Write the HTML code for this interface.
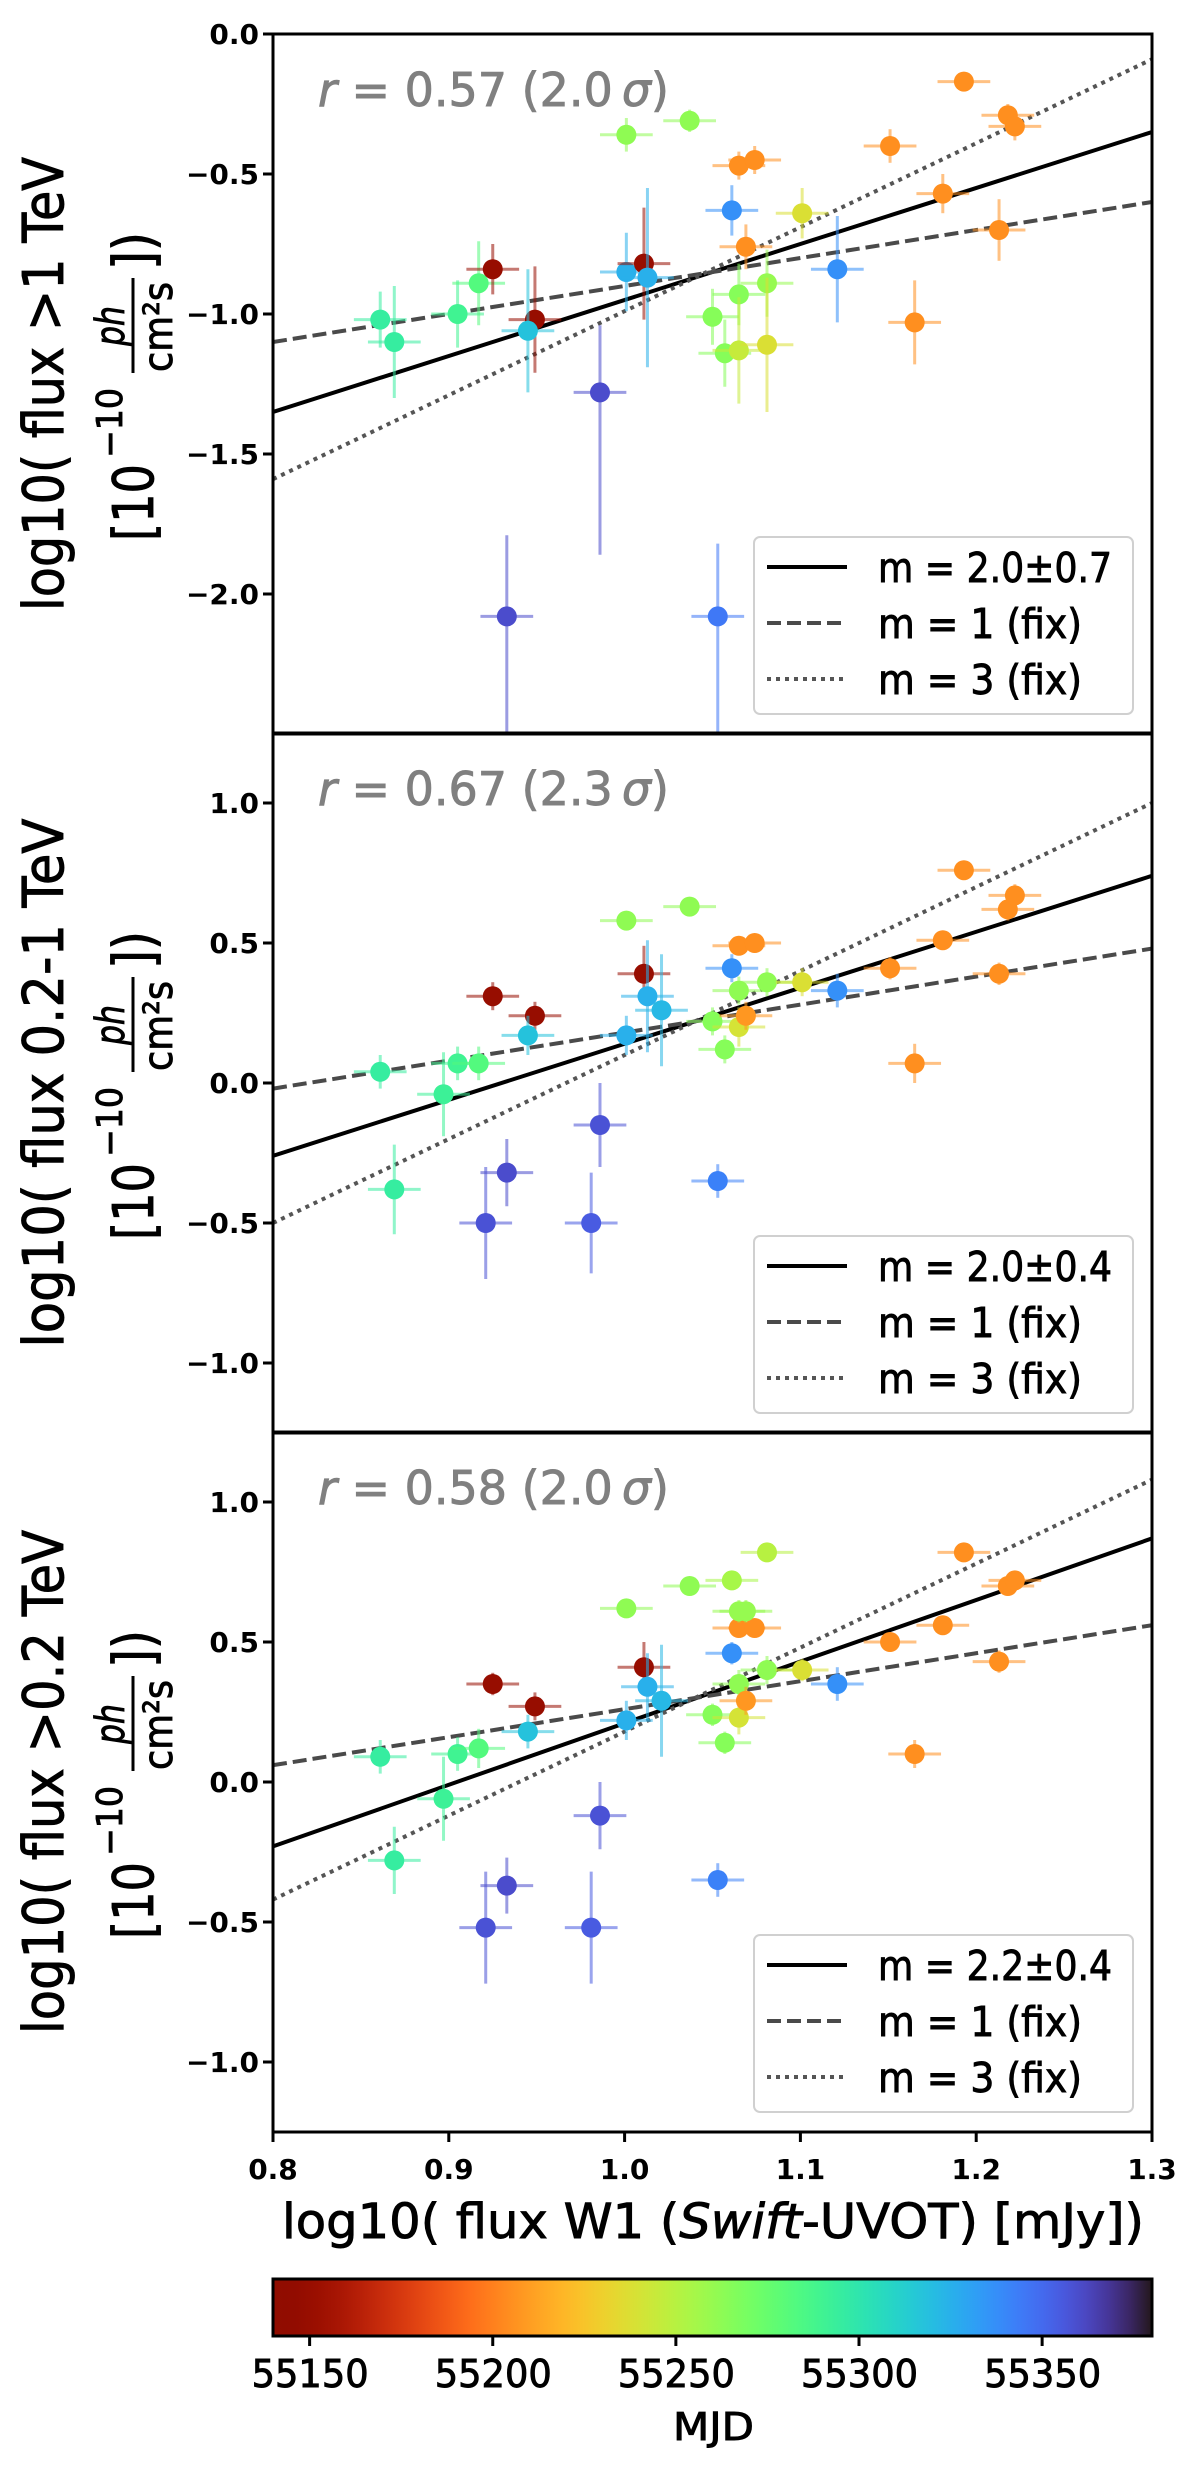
<!DOCTYPE html>
<html><head><meta charset="utf-8"><style>
html,body{margin:0;padding:0;background:#fff;}
svg{display:block;}
text{font-family:"DejaVu Sans","Liberation Sans",sans-serif;}
.hv{stroke:currentColor;stroke-width:0.9;}
</style></head><body>
<svg id="fig" width="1200" height="2472" viewBox="0 0 1200 2472" xmlns="http://www.w3.org/2000/svg"></svg>
<script>
// ---- data ----
const xTicks = [0.8, 0.9, 1.0, 1.1, 1.2, 1.3];
const p1YTicks = [0.0, -0.5, -1.0, -1.5, -2.0];
const p23YTicks = [1.0, 0.5, 0.0, -0.5, -1.0];
const cbTicks = [55150, 55200, 55250, 55300, 55350];

const p1X = [0.861,0.869,0.905,0.917,0.925,0.949,0.945,0.986,0.933,1.001,1.011,1.013,1.001,1.037,1.053,1.061,1.050,1.057,1.065,1.065,1.081,1.081,1.101,1.065,1.074,1.069,1.121,1.151,1.165,1.181,1.193,1.213,1.218,1.222];
const p1Y = [-1.02,-1.10,-1.00,-0.89,-0.84,-1.02,-1.06,-1.28,-2.08,-0.85,-0.82,-0.87,-0.36,-0.31,-2.08,-0.63,-1.01,-1.14,-0.93,-1.13,-0.89,-1.11,-0.64,-0.47,-0.45,-0.76,-0.84,-0.40,-1.03,-0.57,-0.17,-0.70,-0.29,-0.33];
const p1Err = [0.1,0.2,0.12,0.15,0.09,0.19,0.22,[0.58,0.24],[0.6,0.29],0.14,0.2,0.32,0.06,0.04,[0.6,0.26],0.09,0.1,0.12,0.11,0.19,0.12,0.24,0.09,0.05,0.05,0.08,0.19,0.06,0.15,0.07,0.03,0.11,0.04,0.05];
const p1Mjd = [55295,55295,55290,55282,55150,55150,55318,55360,55360,55325,55150,55325,55262,55262,55345,55337,55265,55265,55265,55245,55260,55238,55238,55205,55205,55205,55337,55205,55205,55205,55205,55205,55205,55205];

const p2X = [0.861,0.869,0.897,0.905,0.917,0.925,0.949,0.945,0.921,0.933,0.981,0.986,1.053,1.001,1.011,1.013,1.021,1.001,1.037,1.061,1.050,1.057,1.065,1.065,1.069,1.081,1.101,1.065,1.074,1.121,1.151,1.165,1.181,1.193,1.213,1.218,1.222];
const p2Y = [0.04,-0.38,-0.04,0.07,0.07,0.31,0.24,0.17,-0.50,-0.32,-0.50,-0.15,-0.35,0.17,0.39,0.31,0.26,0.58,0.63,0.41,0.22,0.12,0.33,0.20,0.24,0.36,0.36,0.49,0.50,0.33,0.41,0.07,0.51,0.76,0.39,0.62,0.67];
const p2Err = [0.06,0.16,0.15,0.06,0.06,0.05,0.05,0.07,0.2,0.12,0.18,0.15,0.06,0.07,0.1,0.2,0.2,0.03,0.02,0.05,0.05,0.05,0.05,0.07,0.05,0.05,0.05,0.03,0.03,0.06,0.04,0.07,0.03,0.02,0.04,0.04,0.04];
const p2Mjd = [55295,55295,55292,55290,55282,55150,55150,55318,55358,55360,55355,55358,55342,55325,55150,55325,55322,55262,55262,55337,55265,55265,55262,55240,55208,55262,55238,55205,55205,55337,55205,55205,55205,55205,55205,55205,55205];

const p3X = [0.861,0.869,0.897,0.905,0.917,0.925,0.949,0.945,0.921,0.933,0.981,0.986,1.053,1.001,1.011,1.013,1.021,1.001,1.037,1.061,1.050,1.057,1.065,1.065,1.069,1.081,1.081,1.101,1.065,1.074,1.121,1.151,1.165,1.181,1.193,1.213,1.218,1.222,1.061,1.065,1.069];
const p3Y = [0.09,-0.28,-0.06,0.10,0.12,0.35,0.27,0.18,-0.52,-0.37,-0.52,-0.12,-0.35,0.22,0.41,0.34,0.29,0.62,0.70,0.46,0.24,0.14,0.35,0.23,0.29,0.40,0.82,0.40,0.55,0.55,0.35,0.50,0.10,0.56,0.82,0.43,0.70,0.72,0.72,0.61,0.61];
const p3Err = [0.06,0.12,0.15,0.06,0.07,0.04,0.05,0.06,0.2,0.1,0.2,0.12,0.06,0.07,0.09,0.12,0.2,0.03,0.02,0.04,0.04,0.04,0.05,0.06,0.05,0.05,0.03,0.04,0.03,0.03,0.06,0.03,0.05,0.03,0.02,0.04,0.03,0.03,0.03,0.04,0.04];
const p3Mjd = [55295,55295,55292,55290,55282,55150,55150,55318,55358,55360,55355,55358,55342,55325,55150,55325,55322,55262,55262,55337,55265,55265,55262,55240,55208,55262,55250,55238,55205,55205,55337,55205,55205,55205,55205,55205,55205,55205,55255,55260,55260];

const p1Fit = [2.0, -1.35]; // slope, value at x=0.8
const p2Fit = [2.0, -0.26];
const p3Fit = [2.2, -0.23];
const p1Fix = [[1, -1.10],[3, -1.59]];
const p2Fix = [[1, -0.02],[3, -0.50]];
const p3Fix = [[1, 0.06],[3, -0.42]];
const p1Legend = ["m = 2.0±0.7","m = 1 (fix)","m = 3 (fix)"];
const p2Legend = ["m = 2.0±0.4","m = 1 (fix)","m = 3 (fix)"];
const p3Legend = ["m = 2.2±0.4","m = 1 (fix)","m = 3 (fix)"];
const rLabels = ["0.57 (2.0", "0.67 (2.3", "0.58 (2.0"];
const yLabelNames = ["flux >1 TeV","flux 0.2-1 TeV","flux >0.2 TeV"];

// ---- layout ----
const NS = "http://www.w3.org/2000/svg";
const svg = document.getElementById('fig');
const X0 = 273, X1 = 1152, PX = 1758;
const xs = v => X0 + (v - 0.8) * PX;
const MJD0 = 55140, MJD1 = 55380;

function mk(tag, attrs, parent, txt){
  const e = document.createElementNS(NS, tag);
  for (const k in attrs) e.setAttribute(k, attrs[k]);
  if (txt !== undefined) e.textContent = txt;
  (parent || svg).appendChild(e);
  return e;
}
function turbo(t){
  t = Math.max(0, Math.min(1, t));
  const r = 0.13572138 + t*(4.61539260 + t*(-42.66032258 + t*(132.13108234 + t*(-152.94239396 + t*59.28637943))));
  const g = 0.09140261 + t*(2.19418839 + t*(4.84296658 + t*(-14.18503333 + t*(4.27729857 + t*2.82956604))));
  const b = 0.10667330 + t*(12.64194608 + t*(-60.58204836 + t*(110.36276771 + t*(-89.90310912 + t*27.34824973))));
  const c = v => Math.round(255*Math.max(0, Math.min(1, v)));
  return `rgb(${c(r)},${c(g)},${c(b)})`;
}
const mjdColor = m => turbo(1 - (m - MJD0)/(MJD1 - MJD0));
const TL = {lengthAdjust:'spacingAndGlyphs'};

const panels = [
  {top:34, ymax:0, ymin:-2.5, ticks:p1YTicks, X:p1X, Y:p1Y, E:p1Err, M:p1Mjd, fit:p1Fit, fix:p1Fix, leg:p1Legend},
  {top:733, ymax:1.25, ymin:-1.25, ticks:p23YTicks, X:p2X, Y:p2Y, E:p2Err, M:p2Mjd, fit:p2Fit, fix:p2Fix, leg:p2Legend},
  {top:1432, ymax:1.25, ymin:-1.25, ticks:p23YTicks, X:p3X, Y:p3Y, E:p3Err, M:p3Mjd, fit:p3Fit, fix:p3Fix, leg:p3Legend}
];

const defs = mk('defs', {});
panels.forEach((p, pi) => {
  const H = 700, bottom = p.top + H;
  const ys = v => p.top + (p.ymax - v) * 280;
  const cp = mk('clipPath', {id:'clip'+pi}, defs);
  mk('rect', {x:X0, y:p.top, width:X1-X0, height:H}, cp);

  const g = mk('g', {});
  
  
  const plot = mk('g', {'clip-path':`url(#clip${pi})`}, g);

  const fits = [
    {m:p.fit[0], b:p.fit[1], st:{stroke:'#000','stroke-width':4}, n:'fit-line'},
    {m:p.fix[0][0], b:p.fix[0][1], st:{stroke:'#4a4a4a','stroke-width':4,'stroke-dasharray':'14 6'}, n:'fixed-slope-1-line'},
    {m:p.fix[1][0], b:p.fix[1][1], st:{stroke:'#555','stroke-width':4,'stroke-dasharray':'4 5'}, n:'fixed-slope-3-line'}
  ];
  fits.forEach(f => {
    const l = mk('line', Object.assign({x1:xs(0.8), y1:ys(f.b), x2:xs(1.3), y2:ys(f.b + f.m*0.5)}, f.st), plot);
    
    
  });

  p.X.forEach((xv, i) => {
    const yv = p.Y[i], e = p.E[i];
    const lo = Array.isArray(e) ? e[0] : e, hi = Array.isArray(e) ? e[1] : e;
    const col = mjdColor(p.M[i]);
    const pg = mk('g', {}, plot);
    
    
    mk('line', {x1:xs(xv-0.015), x2:xs(xv+0.015), y1:ys(yv), y2:ys(yv), stroke:col, 'stroke-width':3, opacity:0.55}, pg);
    mk('line', {x1:xs(xv), x2:xs(xv), y1:ys(yv-lo), y2:ys(yv+hi), stroke:col, 'stroke-width':3, opacity:0.55}, pg);
    mk('circle', {cx:xs(xv), cy:ys(yv), r:10, fill:col}, pg);
  });

  const fr = mk('rect', {x:X0, y:p.top, width:X1-X0, height:H, fill:'none', stroke:'#000', 'stroke-width':3}, g);
  
  

  p.ticks.forEach(t => {
    mk('line', {x1:X0-10, x2:X0, y1:ys(t), y2:ys(t), stroke:'#000', 'stroke-width':3}, g);
    const tl = mk('text', {x:X0-14, y:ys(t)+10, 'font-size':28, 'font-weight':'bold', 'text-anchor':'end'}, g, (t<0?'\u2212':'') + Math.abs(t).toFixed(1));
    
    
  });

  const rt = mk('text', Object.assign({x:318, y:p.top+72, 'font-size':46, fill:'#808080', class:'hv', color:'#808080', textLength:351}, TL), g);
  
  
  mk('tspan', {'font-style':'italic'}, rt, 'r');
  mk('tspan', {}, rt, ' = ' + rLabels[pi] + '\u2009');
  mk('tspan', {'font-style':'italic'}, rt, 'σ');
  mk('tspan', {}, rt, ')');

  const lg = mk('g', {}, g);
  
  
  const ly = bottom - 197;
  mk('rect', {x:754, y:ly, width:379, height:177, rx:6, fill:'#fff', stroke:'#d0d0d0', 'stroke-width':2}, lg);
  fits.forEach((f, k) => {
    const yy = ly + 30 + k*56;
    mk('line', Object.assign({x1:767, x2:847, y1:yy, y2:yy}, f.st), lg);
    const lt = mk('text', Object.assign({x:878, y:yy+15, 'font-size':41, class:'hv', color:'#000', textLength:(k===0?234:204)}, TL), lg, p.leg[k]);
    
    
  });

  // y label (rotated)
  const cy = p.top + H/2;
  const yl = mk('g', {transform:`translate(0 ${cy}) rotate(-90)`, class:'hv', color:'#000'}, g);
  
  
  const l1 = 'log10( ' + yLabelNames[pi];
  mk('text', Object.assign({x:0, y:63, 'font-size':56, 'text-anchor':'middle', textLength: Math.round(l1.length*25.2)}, TL), yl, l1);
  mk('text', Object.assign({x:-157, y:153, 'font-size':56, textLength:77}, TL), yl, '[10');
  mk('text', Object.assign({x:-74, y:122, 'font-size':36, textLength:70}, TL), yl, '\u221210');
  mk('text', Object.assign({x:58, y:124, 'font-size':40, 'font-style':'italic', 'text-anchor':'middle', textLength:40}, TL), yl, 'ph');
  mk('line', {x1:11, x2:106, y1:133, y2:133, stroke:'#000', 'stroke-width':3}, yl);
  mk('text', Object.assign({x:57, y:172, 'font-size':40, 'text-anchor':'middle', textLength:90}, TL), yl, 'cm\u00b2s');
  mk('text', Object.assign({x:114, y:153, 'font-size':56, textLength:38}, TL), yl, '])');
});

xTicks.forEach(t => {
  mk('line', {x1:xs(t), x2:xs(t), y1:2132, y2:2142, stroke:'#000', 'stroke-width':3});
  const tl = mk('text', {x:xs(t), y:2179, 'font-size':28, 'font-weight':'bold', 'text-anchor':'middle'}, svg, t.toFixed(1));
  
  
});
const xl = mk('text', Object.assign({x:282, y:2238, 'font-size':48, class:'hv', color:'#000', textLength:862}, TL));


mk('tspan', {}, xl, 'log10( flux W1 (');
mk('tspan', {'font-style':'italic'}, xl, 'Swift');
mk('tspan', {}, xl, '-UVOT) [mJy])');

const grad = mk('linearGradient', {id:'cbgrad', x1:0, x2:1, y1:0, y2:0}, defs);
for (let i = 0; i <= 40; i++) {
  mk('stop', {offset: (i/40).toFixed(3), 'stop-color': turbo(1 - i/40)}, grad);
}
const cb = mk('rect', {x:X0, y:2279, width:X1-X0, height:57, fill:'url(#cbgrad)', stroke:'#000', 'stroke-width':3});


const cbx = m => X0 + (m - MJD0) / (MJD1 - MJD0) * (X1 - X0);
cbTicks.forEach(t => {
  mk('line', {x1:cbx(t), x2:cbx(t), y1:2336, y2:2346, stroke:'#000', 'stroke-width':3});
  const tl = mk('text', Object.assign({x:cbx(t)-58, y:2387, 'font-size':38, class:'hv', color:'#000', textLength:117}, TL), svg, String(t));
  
  
});
const mj = mk('text', Object.assign({x:673, y:2440, 'font-size':38, class:'hv', color:'#000', textLength:81}, TL), svg, 'MJD');


</script>
</body></html>
